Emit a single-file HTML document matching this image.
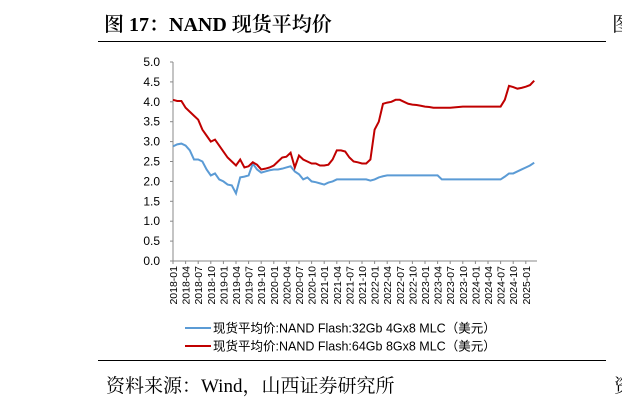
<!DOCTYPE html>
<html><head><meta charset="utf-8"><style>
body{margin:0;background:#fff;width:622px;height:409px;overflow:hidden;position:relative}
.t{position:absolute;font-family:"Liberation Serif","Noto Serif CJK SC",serif;color:#000;white-space:nowrap}
</style></head><body>
<div class="t" style="left:104px;top:8px;font-size:20px;font-weight:600">图 17：NAND 现货平均价</div>
<div class="t" style="left:612px;top:8px;font-size:20px">图</div>
<div style="position:absolute;left:98px;top:41px;width:508px;height:1px;background:#000"></div>
<div style="position:absolute;left:98px;top:360px;width:508px;height:1px;background:#000"></div>
<div class="t" style="left:106px;top:371px;font-size:19px">资料来源：Wind，山西证券研究所</div>
<div class="t" style="left:614px;top:371px;font-size:19px">资</div>
<svg id="c" width="622" height="409" style="position:absolute;left:0;top:0"></svg>
<script>
const yTicks=[0,0.5,1,1.5,2,2.5,3,3.5,4,4.5,5];
const xLabels=["2018-01","2018-04","2018-07","2018-10","2019-01","2019-04","2019-07","2019-10","2020-01","2020-04","2020-07","2020-10","2021-01","2021-04","2021-07","2021-10","2022-01","2022-04","2022-07","2022-10","2023-01","2023-04","2023-07","2023-10","2024-01","2024-04","2024-07","2024-10","2025-01"];
const red=[4.05,4.02,4.02,3.85,3.75,3.65,3.55,3.3,3.15,3.0,3.05,2.9,2.75,2.6,2.5,2.4,2.55,2.35,2.38,2.48,2.42,2.3,2.32,2.35,2.4,2.5,2.6,2.62,2.72,2.35,2.65,2.55,2.5,2.45,2.45,2.4,2.4,2.42,2.55,2.78,2.78,2.75,2.6,2.5,2.48,2.45,2.45,2.55,3.3,3.5,3.95,3.98,4.0,4.05,4.05,4.0,3.95,3.93,3.92,3.9,3.88,3.87,3.85,3.85,3.85,3.85,3.85,3.86,3.87,3.88,3.88,3.88,3.88,3.88,3.88,3.88,3.88,3.88,3.88,4.05,4.4,4.37,4.33,4.35,4.38,4.42,4.53];
const blue=[2.88,2.93,2.95,2.9,2.78,2.55,2.55,2.5,2.3,2.15,2.2,2.05,2.0,1.92,1.9,1.7,2.1,2.12,2.15,2.45,2.3,2.22,2.25,2.28,2.3,2.3,2.32,2.35,2.38,2.25,2.18,2.05,2.1,2.0,1.98,1.95,1.92,1.97,2.0,2.05,2.05,2.05,2.05,2.05,2.05,2.05,2.05,2.02,2.05,2.1,2.13,2.15,2.15,2.15,2.15,2.15,2.15,2.15,2.15,2.15,2.15,2.15,2.15,2.15,2.05,2.05,2.05,2.05,2.05,2.05,2.05,2.05,2.05,2.05,2.05,2.05,2.05,2.05,2.05,2.12,2.2,2.2,2.25,2.3,2.35,2.4,2.47];
const seriesNames=["现货平均价:NAND Flash:32Gb 4Gx8 MLC（美元）","现货平均价:NAND Flash:64Gb 8Gx8 MLC（美元）"];
const svg=document.getElementById('c');const NS='http://www.w3.org/2000/svg';
const X0=173,DX=4.2,Y0=261,YS=39.8;
const xs=m=>X0+m*DX, ys=v=>Y0-v*YS;
function mk(t,a){const e=document.createElementNS(NS,t);for(const k in a)e.setAttribute(k,a[k]);svg.appendChild(e);return e;}
let e=mk('line',{x1:X0,y1:ys(5),x2:X0,y2:Y0,stroke:'#888','stroke-width':1});

e=mk('line',{x1:X0,y1:Y0,x2:537,y2:Y0,stroke:'#888','stroke-width':1});

yTicks.forEach(v=>{
 const t=mk('text',{x:160,y:ys(v)+4,'text-anchor':'end','font-size':12,'font-family':'Liberation Sans, sans-serif',fill:'#000'});t.textContent=v.toFixed(1);
 
 mk('line',{x1:X0-3,y1:ys(v),x2:X0,y2:ys(v),stroke:'#888'});
});
xLabels.forEach((l,i)=>{
 const x=xs(i*3);
 mk('line',{x1:x,y1:Y0,x2:x,y2:Y0+3,stroke:'#888'});
 const t=mk('text',{x:0,y:0,transform:`translate(${x+4},${Y0+5}) rotate(-90)`,'text-anchor':'end','font-size':10.5,'font-family':'Liberation Sans, sans-serif',fill:'#000'});t.textContent=l;
 
});
[[blue,'#5b9bd5','series-32gb-line'],[red,'#c00000','series-64gb-line']].forEach(([d,c,n])=>{
 const p=mk('polyline',{points:d.map((v,i)=>xs(i)+','+ys(v)).join(' '),fill:'none',stroke:c,'stroke-width':2});
 
});
[['#5b9bd5',328],['#c00000',346]].forEach(([c,y],i)=>{
 const l=mk('line',{x1:185,y1:y,x2:211,y2:y,stroke:c,'stroke-width':2});
 
 const t=mk('text',{x:213,y:y+4.5,'font-size':12.5,'font-family':'Liberation Sans, Noto Sans CJK SC, sans-serif',fill:'#000'});t.textContent=seriesNames[i];
 
});
</script>
</body></html>
